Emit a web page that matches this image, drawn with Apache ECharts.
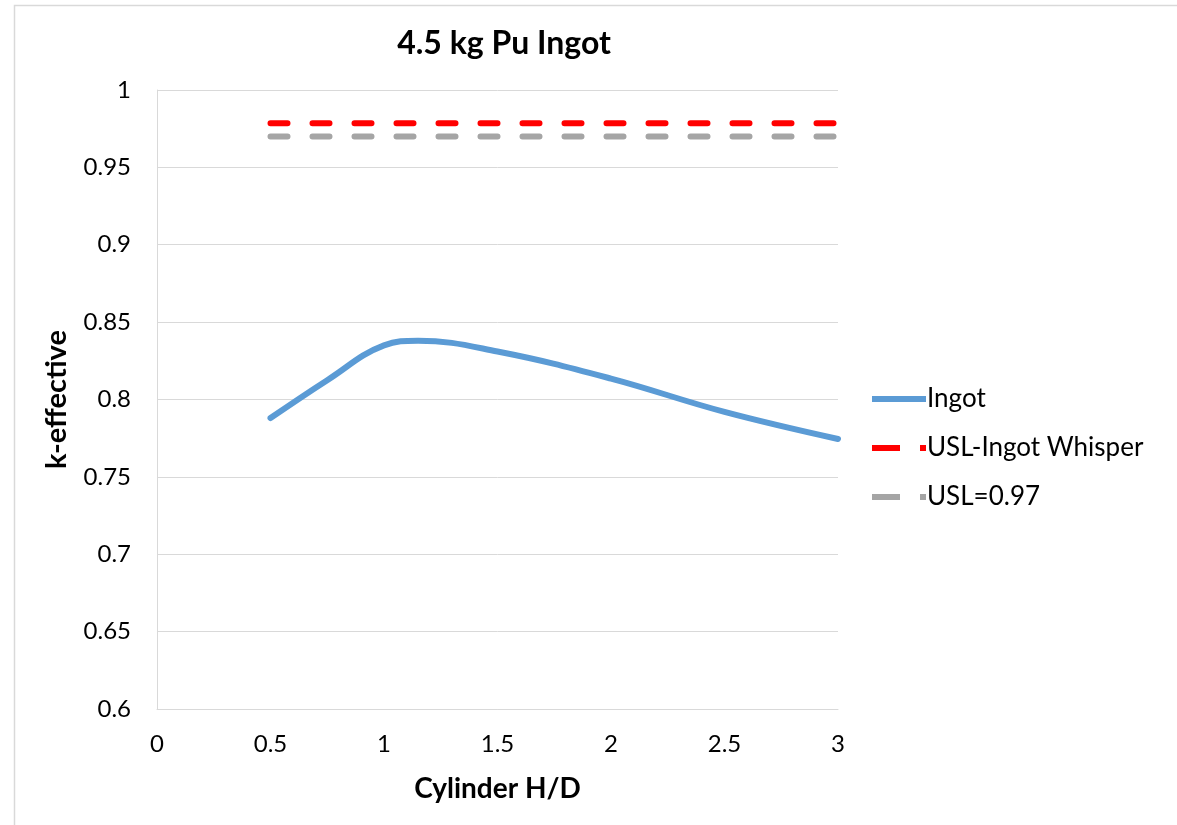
<!DOCTYPE html>
<html>
<head>
<meta charset="utf-8">
<title>4.5 kg Pu Ingot</title>
<script src="https://cdn.jsdelivr.net/npm/echarts@6/dist/echarts.min.js"></script>
<style>
  html, body { margin: 0; padding: 0; background: #fff; }
  #main { width: 1177px; height: 825px; }
</style>
</head>
<body>
<div id="main"></div>
<script>
  // values
  var hdRatio = [0.5, 0.75, 1, 1.15, 1.5, 2, 2.5, 3]
  var ingotK = [0.788, 0.8125, 0.835, 0.838, 0.831, 0.8135, 0.792, 0.7745]
  var uslRange = [0.5, 3]
  var uslWhisper = 0.9785
  var usl = 0.97

  var font = 'Lato, "Open Sans", sans-serif'

  // legend icons: solid line, and dash + dot
  var solidIcon = 'path://M0,0 L54,0 L54,6 L0,6 Z'
  var dashIcon = 'path://M0,0 L28,0 L28,6 L0,6 Z M48,0 L54,0 L54,6 L48,6 Z'

  function pairs (xs, ys) {
    return xs.map(function (x, i) { return [x, ys[i]] })
  }

  var option = {
    backgroundColor: '#fff',
    animation: false,
    textStyle: { fontFamily: font },
    title: {
      text: '4.5 kg Pu Ingot',
      left: 499,
      top: 23,
      textAlign: 'center',
      textStyle: { fontFamily: font, fontSize: 32, fontWeight: 'bold', color: '#000' }
    },
    graphic: [{
      type: 'rect',
      shape: { x: 14.5, y: 5.5, width: 1200, height: 900 },
      style: { fill: 'none', stroke: '#d9d9d9', lineWidth: 1.5 },
      silent: true
    }],
    legend: {
      orient: 'vertical',
      left: 867,
      top: 379,
      itemGap: 19,
      itemWidth: 54,
      itemHeight: 6,
      textStyle: { fontFamily: font, fontSize: 26, lineHeight: 30, color: '#000', padding: [0, 0, 0, -4] },
      data: [
        { name: 'Ingot', icon: solidIcon },
        { name: 'USL-Ingot Whisper', icon: dashIcon },
        { name: 'USL=0.97', icon: dashIcon }
      ]
    },
    grid: { left: 157, right: 339, top: 90, bottom: 116 },
    xAxis: {
      type: 'value',
      min: 0,
      max: 3,
      interval: 0.5,
      name: 'Cylinder H/D',
      nameLocation: 'middle',
      nameGap: 66,
      nameTextStyle: { fontFamily: font, fontSize: 28, fontWeight: 'bold', color: '#000' },
      axisLine: { lineStyle: { color: '#d9d9d9', width: 1 } },
      axisTick: { show: false },
      axisLabel: { fontFamily: font, fontSize: 24, color: '#000', margin: 23 },
      splitLine: { show: false }
    },
    yAxis: {
      type: 'value',
      min: 0.6,
      max: 1,
      interval: 0.05,
      name: 'k-effective',
      nameLocation: 'middle',
      nameGap: 86,
      nameTextStyle: { fontFamily: font, fontSize: 29, fontWeight: 'bold', color: '#000' },
      axisLine: { show: true, lineStyle: { color: '#d9d9d9', width: 1 } },
      axisTick: { show: false },
      axisLabel: {
        fontFamily: font,
        fontSize: 24,
        color: '#000',
        margin: 26,
        formatter: function (v) { return String(Math.round(v * 100) / 100) }
      },
      splitLine: { lineStyle: { color: '#d9d9d9', width: 1 } }
    },
    series: [{
      name: 'Ingot',
      type: 'line',
      smooth: 0.4,
      symbol: 'none',
      data: pairs(hdRatio, ingotK),
      lineStyle: { color: '#5b9bd5', width: 6, cap: 'round' },
      itemStyle: { color: '#5b9bd5' }
    }, {
      name: 'USL-Ingot Whisper',
      type: 'line',
      symbol: 'none',
      data: pairs(uslRange, [uslWhisper, uslWhisper]),
      lineStyle: { color: '#ff0000', width: 6, type: [17, 25], cap: 'round' },
      itemStyle: { color: '#ff0000' }
    }, {
      name: 'USL=0.97',
      type: 'line',
      symbol: 'none',
      data: pairs(uslRange, [usl, usl]),
      lineStyle: { color: '#a5a5a5', width: 6, type: [17, 25], cap: 'round' },
      itemStyle: { color: '#a5a5a5' }
    }]
  }

  var chart = echarts.init(document.getElementById('main'))
  chart.setOption(option)
  window.addEventListener('resize', function () {
    chart.resize()
  })
</script>
</body>
</html>
